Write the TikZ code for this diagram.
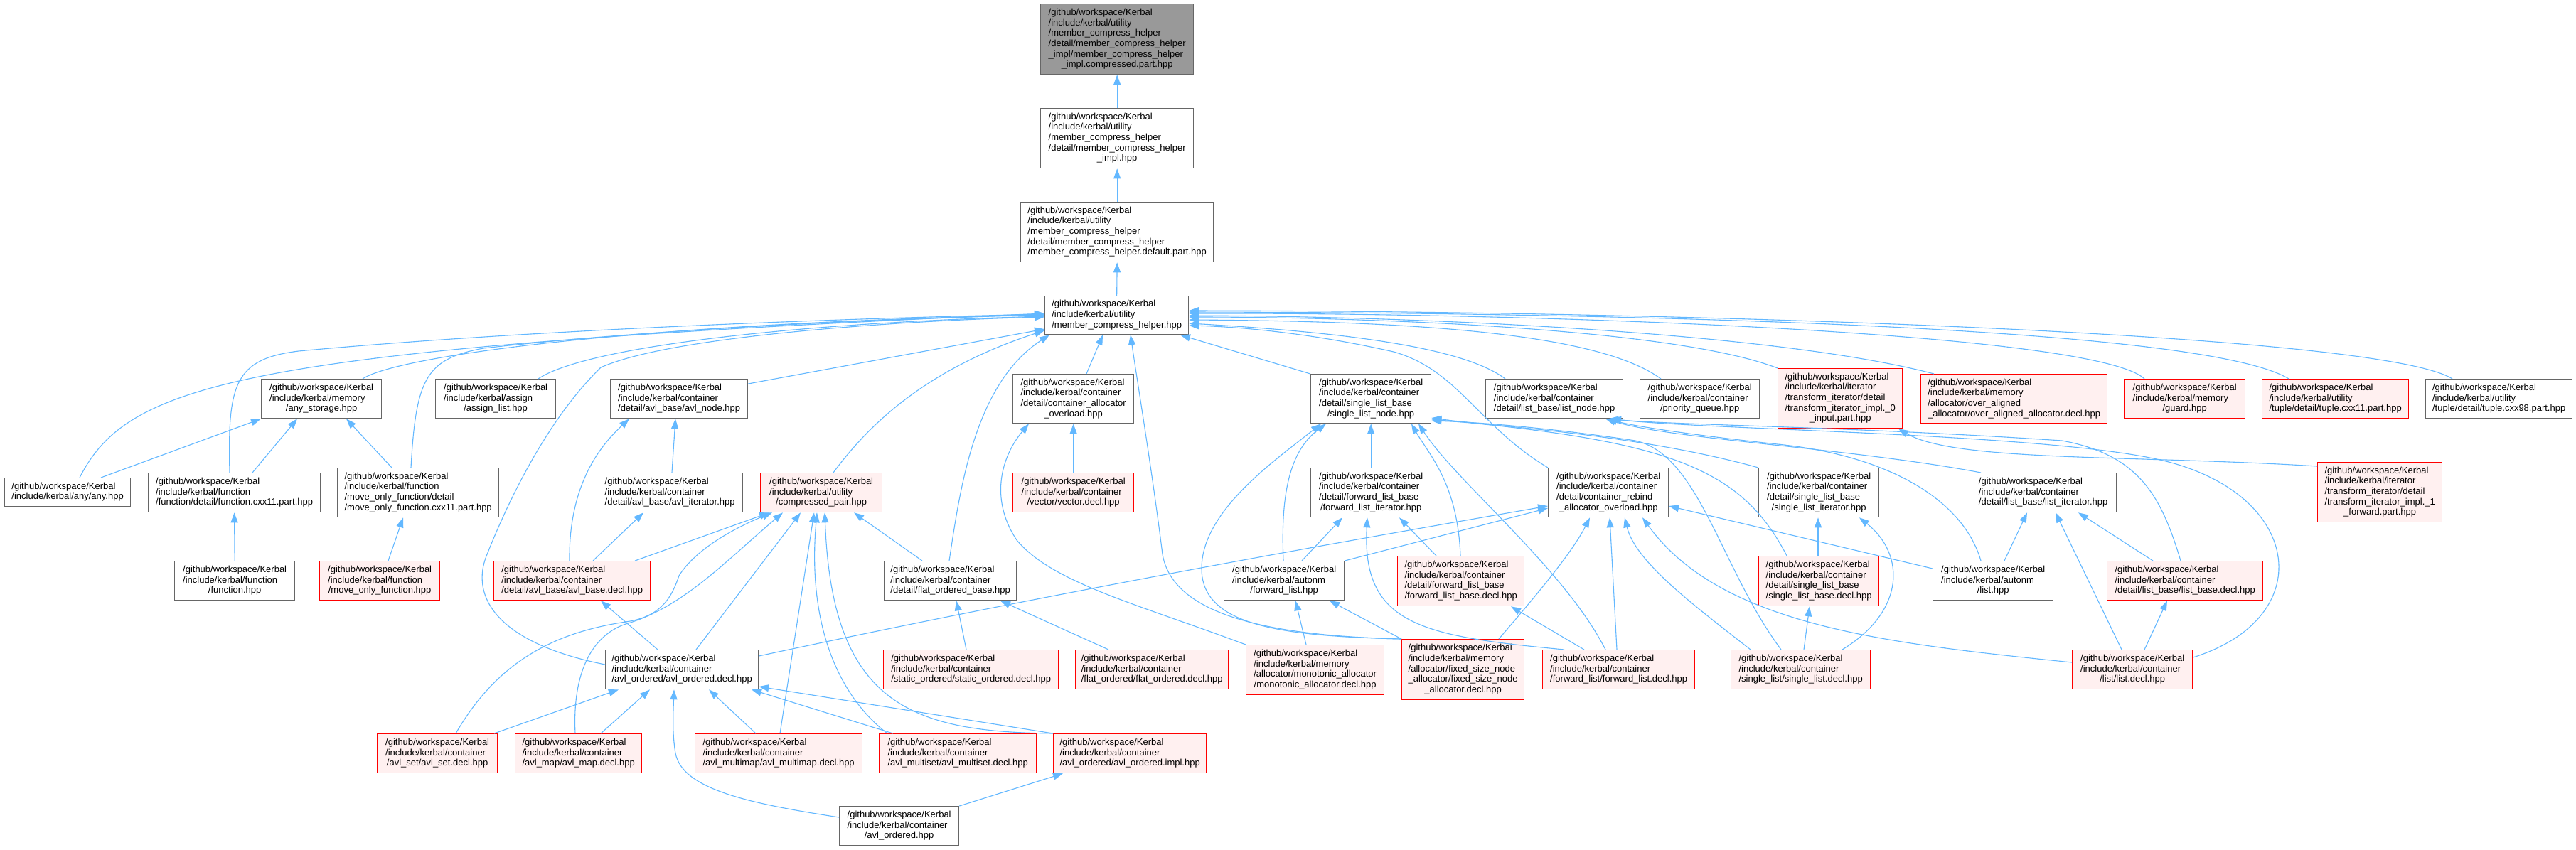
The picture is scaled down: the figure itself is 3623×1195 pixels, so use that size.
\documentclass[tikz,border=0pt]{standalone}
\usepackage{fontspec}
\setmainfont{Liberation Sans}
\usetikzlibrary{arrows.meta}
\definecolor{edgec}{HTML}{63B8FF}
\definecolor{bord}{HTML}{666666}
\definecolor{rootf}{HTML}{999999}
\definecolor{redf}{HTML}{FFF0F0}
\definecolor{redb}{HTML}{FF0000}
\newcommand{\GW}{/github/workspace/Kerbal}
\newcommand{\IKC}{/include/kerbal/container}
\newcommand{\labl}[2]{\begin{tabular}{@{}l@{}}#1\\\multicolumn{1}{@{}c@{}}{#2}\end{tabular}}
\newcommand{\mkbox}[7]{\node[#6, minimum width={(#4-#2)*1pt}, minimum height={(#5-#3)*1pt}] (#1) at (#2,#3) {#7};}
\tikzset{
 nd/.style={draw=bord, fill=white, line width=1.3pt, anchor=north west, inner sep=0pt, font=\fontsize{13}{14.67}\selectfont},
 rd/.style={nd, draw=redb, fill=redf},
 rt/.style={nd, fill=rootf},
 ed/.style={draw=edgec, line width=1.1pt, -{Triangle[length=14pt,width=10pt]}},
}
\begin{document}
\begin{tikzpicture}[x=1pt,y=-1pt]
\path[fill=white, use as bounding box] (0,0) rectangle (3623,1195);
% ---- nodes
\mkbox{n0}{1463}{5}{1678}{104}{rt}{\labl{\GW\\/include/kerbal/utility\\/member\_compress\_helper\\/detail/member\_compress\_helper\\\_impl/member\_compress\_helper}{\_impl.compressed.part.hpp}}
\mkbox{n1}{1463}{152}{1678}{236}{nd}{\labl{\GW\\/include/kerbal/utility\\/member\_compress\_helper\\/detail/member\_compress\_helper}{\_impl.hpp}}
\mkbox{n2}{1435}{284}{1706}{368}{nd}{\labl{\GW\\/include/kerbal/utility\\/member\_compress\_helper\\/detail/member\_compress\_helper}{/member\_compress\_helper.default.part.hpp}}
\mkbox{n3}{1469}{416}{1671}{470}{nd}{\labl{\GW\\/include/kerbal/utility}{/member\_compress\_helper.hpp}}
% row A
\mkbox{ast}{367}{533}{536}{588}{nd}{\labl{\GW\\/include/kerbal/memory}{/any\_storage.hpp}}
\mkbox{asl}{612}{533}{781}{588}{nd}{\labl{\GW\\/include/kerbal/assign}{/assign\_list.hpp}}
\mkbox{avn}{858}{533}{1051}{588}{nd}{\labl{\GW\\\IKC}{/detail/avl\_base/avl\_node.hpp}}
\mkbox{cao}{1424}{526}{1594}{595}{nd}{\labl{\GW\\\IKC\\/detail/container\_allocator}{\_overload.hpp}}
\mkbox{sln}{1843}{526}{2012}{595}{nd}{\labl{\GW\\\IKC\\/detail/single\_list\_base}{/single\_list\_node.hpp}}
\mkbox{lnode}{2089}{533}{2282}{588}{nd}{\labl{\GW\\\IKC}{/detail/list\_base/list\_node.hpp}}
\mkbox{pq}{2306}{533}{2474}{588}{nd}{\labl{\GW\\\IKC}{/priority\_queue.hpp}}
\mkbox{ti0}{2500}{518}{2675}{602}{rd}{\labl{\GW\\/include/kerbal/iterator\\/transform\_iterator/detail\\/transform\_iterator\_impl.\_0}{\_input.part.hpp}}
\mkbox{oaa}{2701}{526}{2963}{595}{rd}{\labl{\GW\\/include/kerbal/memory\\/allocator/over\_aligned}{\_allocator/over\_aligned\_allocator.decl.hpp}}
\mkbox{guard}{2987}{533}{3157}{588}{rd}{\labl{\GW\\/include/kerbal/memory}{/guard.hpp}}
\mkbox{t11}{3181}{533}{3387}{588}{rd}{\labl{\GW\\/include/kerbal/utility}{/tuple/detail/tuple.cxx11.part.hpp}}
\mkbox{t98}{3411}{533}{3617}{588}{nd}{\labl{\GW\\/include/kerbal/utility}{/tuple/detail/tuple.cxx98.part.hpp}}
% row B
\mkbox{any}{6}{672}{183}{712}{nd}{\labl{\GW}{/include/kerbal/any/any.hpp}}
\mkbox{fcx}{208}{665}{450}{720}{nd}{\labl{\GW\\/include/kerbal/function}{/function/detail/function.cxx11.part.hpp}}
\mkbox{mofcx}{474}{658}{701}{727}{nd}{\labl{\GW\\/include/kerbal/function\\/move\_only\_function/detail}{/move\_only\_function.cxx11.part.hpp}}
\mkbox{avit}{839}{665}{1044}{720}{nd}{\labl{\GW\\\IKC}{/detail/avl\_base/avl\_iterator.hpp}}
\mkbox{cp}{1069}{665}{1240}{720}{rd}{\labl{\GW\\/include/kerbal/utility}{/compressed\_pair.hpp}}
\mkbox{vec}{1424}{665}{1594}{720}{rd}{\labl{\GW\\\IKC}{/vector/vector.decl.hpp}}
\mkbox{fli}{1843}{658}{2012}{727}{nd}{\labl{\GW\\\IKC\\/detail/forward\_list\_base}{/forward\_list\_iterator.hpp}}
\mkbox{rao}{2177}{658}{2346}{727}{nd}{\labl{\GW\\\IKC\\/detail/container\_rebind}{\_allocator\_overload.hpp}}
\mkbox{sli}{2473}{658}{2642}{727}{nd}{\labl{\GW\\\IKC\\/detail/single\_list\_base}{/single\_list\_iterator.hpp}}
\mkbox{lit}{2770}{665}{2976}{720}{nd}{\labl{\GW\\\IKC}{/detail/list\_base/list\_iterator.hpp}}
\mkbox{ti1}{3259}{650}{3434}{734}{rd}{\labl{\GW\\/include/kerbal/iterator\\/transform\_iterator/detail\\/transform\_iterator\_impl.\_1}{\_forward.part.hpp}}
% row C
\mkbox{fn}{245}{789}{414}{844}{nd}{\labl{\GW\\/include/kerbal/function}{/function.hpp}}
\mkbox{mof}{449}{789}{618}{844}{rd}{\labl{\GW\\/include/kerbal/function}{/move\_only\_function.hpp}}
\mkbox{abd}{694}{789}{914}{844}{rd}{\labl{\GW\\\IKC}{/detail/avl\_base/avl\_base.decl.hpp}}
\mkbox{fob}{1243}{789}{1429}{844}{nd}{\labl{\GW\\\IKC}{/detail/flat\_ordered\_base.hpp}}
\mkbox{afl}{1721}{789}{1890}{844}{nd}{\labl{\GW\\/include/kerbal/autonm}{/forward\_list.hpp}}
\mkbox{flbd}{1965}{782}{2143}{852}{rd}{\labl{\GW\\\IKC\\/detail/forward\_list\_base}{/forward\_list\_base.decl.hpp}}
\mkbox{slbd}{2473}{782}{2642}{852}{rd}{\labl{\GW\\\IKC\\/detail/single\_list\_base}{/single\_list\_base.decl.hpp}}
\mkbox{al}{2718}{789}{2887}{844}{nd}{\labl{\GW\\/include/kerbal/autonm}{/list.hpp}}
\mkbox{lbd}{2963}{789}{3182}{844}{rd}{\labl{\GW\\\IKC}{/detail/list\_base/list\_base.decl.hpp}}
% row D
\mkbox{aod}{851}{914}{1066}{969}{nd}{\labl{\GW\\\IKC}{/avl\_ordered/avl\_ordered.decl.hpp}}
\mkbox{sod}{1242}{914}{1488}{969}{rd}{\labl{\GW\\\IKC}{/static\_ordered/static\_ordered.decl.hpp}}
\mkbox{fod}{1512}{914}{1727}{969}{rd}{\labl{\GW\\\IKC}{/flat\_ordered/flat\_ordered.decl.hpp}}
\mkbox{mad}{1752}{907}{1946}{977}{rd}{\labl{\GW\\/include/kerbal/memory\\/allocator/monotonic\_allocator}{/monotonic\_allocator.decl.hpp}}
\mkbox{fsn}{1971}{899}{2143}{984}{rd}{\labl{\GW\\/include/kerbal/memory\\/allocator/fixed\_size\_node\\\_allocator/fixed\_size\_node}{\_allocator.decl.hpp}}
\mkbox{fld}{2169}{914}{2383}{969}{rd}{\labl{\GW\\\IKC}{/forward\_list/forward\_list.decl.hpp}}
\mkbox{sld}{2434}{914}{2630}{969}{rd}{\labl{\GW\\\IKC}{/single\_list/single\_list.decl.hpp}}
\mkbox{ld}{2914}{914}{3083}{969}{rd}{\labl{\GW\\\IKC}{/list/list.decl.hpp}}
% row E
\mkbox{aset}{530}{1032}{699}{1087}{rd}{\labl{\GW\\\IKC}{/avl\_set/avl\_set.decl.hpp}}
\mkbox{amap}{724}{1032}{902}{1087}{rd}{\labl{\GW\\\IKC}{/avl\_map/avl\_map.decl.hpp}}
\mkbox{amm}{977}{1032}{1212}{1087}{rd}{\labl{\GW\\\IKC}{/avl\_multimap/avl\_multimap.decl.hpp}}
\mkbox{ams}{1236}{1032}{1457}{1087}{rd}{\labl{\GW\\\IKC}{/avl\_multiset/avl\_multiset.decl.hpp}}
\mkbox{aoi}{1481}{1032}{1696}{1087}{rd}{\labl{\GW\\\IKC}{/avl\_ordered/avl\_ordered.impl.hpp}}
\mkbox{aoh}{1180}{1134}{1348}{1189}{nd}{\labl{\GW\\\IKC}{/avl\_ordered.hpp}}
% ---- edges
\draw[ed] (n1.north) -- (n0.south);
\draw[ed] (n2.north) -- (n1.south);
\draw[ed] (n3.north) -- (n2.south);
% into member_compress_helper.hpp
\draw[ed] (any.north -| 112,0) .. controls (180,540) and (330,490) .. (n3.west |- 0,441);
\draw[ed] (fcx.north -| 323,0) .. controls (320,540) and (330,505) .. (420,494) .. controls (700,468) and (1100,450) .. (n3.west |- 0,442);
\draw[ed] (ast.north -| 510,0) .. controls (560,500) and (900,455) .. (n3.west |- 0,443);
\draw[ed] (mofcx.north -| 578,0) .. controls (585,530) and (600,505) .. (680,490) .. controls (900,465) and (1200,450) .. (n3.west |- 0,443);
\draw[ed] (asl.north -| 757,0) .. controls (820,490) and (1100,455) .. (n3.west |- 0,445);
\draw[ed] (avn.east |- 0,540) -- (n3.west |- 0,463);
\draw[ed] (aod.west |- 0,935) .. controls (700,905) and (660,840) .. (685,780) .. controls (705,730) and (760,600) .. (845,517) .. controls (950,470) and (1300,450) .. (n3.west |- 0,446);
\draw[ed] (cp.north -| 1172,0) .. controls (1220,600) and (1300,520) .. (n3.west |- 0,465);
\draw[ed] (fob.north -| 1335,0) .. controls (1350,690) and (1370,540) .. (n3.south -| 1476,0);
\draw[ed] (cao.north -| 1528,0) -- (n3.south -| 1551,0);
\draw[ed] (fsn.north west) .. controls (1800,895) and (1650,870) .. (1635,780) .. controls (1620,660) and (1600,540) .. (n3.south -| 1590,0);
\draw[ed] (sln.north west) -- (n3.south -| 1660,0);
\draw[ed] (lnode.north -| 2117,0) .. controls (2060,490) and (1900,468) .. (n3.east |- 0,455);
\draw[ed] (pq.north -| 2336,0) .. controls (2250,470) and (2000,452) .. (n3.east |- 0,450);
\draw[ed] (rao.north west) .. controls (2080,600) and (2050,520) .. (1960,495) .. controls (1850,470) and (1750,460) .. (n3.east |- 0,458);
\draw[ed] (ti0.north west) .. controls (2350,460) and (1900,446) .. (n3.east |- 0,446);
\draw[ed] (oaa.north -| 2720,0) .. controls (2500,468) and (2000,445) .. (n3.east |- 0,444);
\draw[ed] (guard.north -| 3016,0) .. controls (2950,470) and (2200,440) .. (n3.east |- 0,441);
\draw[ed] (t11.north -| 3219,0) .. controls (3100,460) and (2300,440) .. (n3.east |- 0,439);
\draw[ed] (t98.north -| 3449,0) .. controls (3350,470) and (2400,438) .. (n3.east |- 0,437);
% memory / function
\draw[ed] (any.north -| 142,0) -- (ast.south west);
\draw[ed] (fcx.north -| 355,0) -- (ast.south -| 418,0);
\draw[ed] (mofcx.north -| 551,0) -- (ast.south -| 487,0);
\draw[ed] (fn.north) -- (fcx.south -| 329.5,0);
\draw[ed] (mof.north -| 546,0) -- (mofcx.south -| 567,0);
% avl
\draw[ed] (avit.north -| 945,0) -- (avn.south -| 950,0);
\draw[ed] (abd.north -| 801,0) .. controls (800,700) and (830,640) .. (avn.south -| 885,0);
\draw[ed] (abd.north -| 834,0) -- (avit.south -| 905,0);
\draw[ed] (abd.north -| 893,0) -- (cp.south -| 1082,0);
\draw[ed] (aset.north -| 641,0) .. controls (700,930) and (780,890) .. (880,875) .. controls (930,868) and (945,840) .. (955,810) .. controls (980,770) and (1040,740) .. (cp.south -| 1086,0);
\draw[ed] (amap.north -| 809,0) .. controls (805,950) and (830,895) .. (880,878) .. controls (960,855) and (1020,790) .. (cp.south -| 1101,0);
\draw[ed] (aod.north -| 979,0) -- (cp.south -| 1126,0);
\draw[ed] (amm.north -| 1097,0) -- (cp.south -| 1145,0);
\draw[ed] (ams.north -| 1248,0) .. controls (1180,980) and (1135,880) .. (cp.south -| 1149,0);
\draw[ed] (aoi.north west) .. controls (1280,1030) and (1170,990) .. (cp.south -| 1160,0);
\draw[ed] (fob.north -| 1297,0) -- (cp.south -| 1201,0);
\draw[ed] (aod.north -| 925,0) -- (abd.south -| 845,0);
\draw[ed] (aod.east |- 0,923) .. controls (1500,830) and (1900,760) .. (rao.west |- 0,712);
\draw[ed] (aoh.west |- 0,1150) .. controls (1050,1130) and (960,1110) .. (950,1060) .. controls (945,1030) and (947,1000) .. (aod.south -| 948,0);
\draw[ed] (aoh.north east) -- (aoi.south -| 1495,0);
\draw[ed] (aset.north -| 695,0) -- (aod.south -| 870,0);
\draw[ed] (amap.north -| 845,0) -- (aod.south -| 914,0);
\draw[ed] (amm.north -| 1063,0) -- (aod.south -| 997,0);
\draw[ed] (ams.north -| 1256,0) -- (aod.south -| 1057,0);
\draw[ed] (aoi.north west) -- (aod.east |- 0,966);
% flat ordered
\draw[ed] (sod.north -| 1359,0) -- (fob.south -| 1345,0);
\draw[ed] (fod.north -| 1559,0) -- (fob.south -| 1407,0);
% container allocator overload
\draw[ed] (vec.north) -- (cao.south);
\draw[ed] (mad.north west) .. controls (1600,850) and (1480,820) .. (1430,760) .. controls (1390,700) and (1410,640) .. (cao.south -| 1447,0);
% single list node
\draw[ed] (afl.north -| 1805,0) .. controls (1800,680) and (1820,630) .. (sln.south -| 1865,0);
\draw[ed] (fsn.north west) .. controls (1800,895) and (1690,880) .. (1690,800) .. controls (1690,720) and (1790,650) .. (sln.south -| 1858,0);
\draw[ed] (fli.north) -- (sln.south);
\draw[ed] (flbd.north -| 2054,0) .. controls (2050,680) and (2010,640) .. (sln.south -| 1985,0);
\draw[ed] (fld.north -| 2258,0) .. controls (2200,800) and (2050,680) .. (sln.south -| 1995,0);
\draw[ed] (sli.north west) .. controls (2300,610) and (2100,600) .. (sln.east |- 0,588);
\draw[ed] (slbd.north -| 2513,0) .. controls (2450,660) and (2350,620) .. (sln.east |- 0,590);
\draw[ed] (sld.north -| 2505,0) .. controls (2420,800) and (2390,640) .. (2300,620) .. controls (2200,605) and (2100,595) .. (sln.east |- 0,592);
% forward list iterator
\draw[ed] (afl.north -| 1831,0) -- (fli.south -| 1888,0);
\draw[ed] (fld.north -| 2200,0) .. controls (2000,895) and (1915,880) .. (fli.south -| 1923,0);
\draw[ed] (flbd.north -| 2020,0) -- (fli.south -| 1968,0);
% rebind allocator overload
\draw[ed] (afl.north east) -- (rao.west |- 0,715);
\draw[ed] (fsn.north -| 2108,0) .. controls (2150,850) and (2210,780) .. (rao.south -| 2236,0);
\draw[ed] (fld.north -| 2274,0) -- (rao.south -| 2264,0);
\draw[ed] (sld.north -| 2462,0) .. controls (2380,850) and (2300,790) .. (rao.south -| 2285,0);
\draw[ed] (ld.west |- 0,932) .. controls (2650,905) and (2420,880) .. (rao.south -| 2310,0);
\draw[ed] (al.west |- 0,800) -- (rao.east |- 0,712);
% autonm forward list
\draw[ed] (mad.north -| 1837,0) -- (afl.south -| 1822,0);
\draw[ed] (fsn.north west) -- (afl.south -| 1870,0);
% forward list base decl
\draw[ed] (fld.north -| 2228,0) -- (flbd.south -| 2125,0);
% single list
\draw[ed] (slbd.north -| 2557,0) -- (sli.south -| 2557,0);
\draw[ed] (sld.north -| 2591,0) .. controls (2680,860) and (2680,780) .. (sli.south -| 2615,0);
\draw[ed] (sld.north -| 2537,0) -- (slbd.south -| 2545,0);
% list
\draw[ed] (al.north -| 2819,0) -- (lit.south -| 2851,0);
\draw[ed] (ld.north -| 2984,0) -- (lit.south -| 2891,0);
\draw[ed] (lbd.north -| 3028,0) -- (lit.south -| 2923,0);
\draw[ed] (ld.north -| 3016,0) -- (lbd.south -| 3048,0);
\draw[ed] (lit.north -| 2786,0) .. controls (2600,630) and (2350,618) .. (lnode.south -| 2258,0);
\draw[ed] (lbd.north -| 3067,0) .. controls (3040,700) and (3010,640) .. (2900,620) .. controls (2600,600) and (2350,598) .. (lnode.south -| 2262,0);
\draw[ed] (ld.east |- 0,925) .. controls (3260,870) and (3240,700) .. (3050,650) .. controls (2900,610) and (2400,605) .. (lnode.south -| 2266,0);
\draw[ed] (al.north -| 2786,0) .. controls (2760,700) and (2650,640) .. (2500,625) .. controls (2380,612) and (2300,600) .. (lnode.south -| 2260,0);
% transform iterator
\draw[ed] (ti1.west |- 0,656) .. controls (3000,640) and (2750,650) .. (ti0.south -| 2670,0);
\end{tikzpicture}
\end{document}
